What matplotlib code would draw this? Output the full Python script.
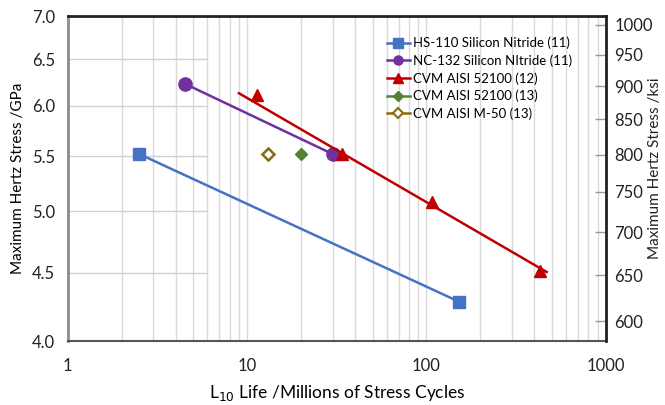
import numpy as np
import matplotlib.pyplot as plt
from matplotlib.ticker import FixedLocator, NullLocator, NullFormatter

plt.rcParams['font.family'] = ['Lato', 'DejaVu Sans']

# ****** Data ****** #
hs110_life = [2.5, 152]
hs110_stress = [5.52, 4.28]

nc132_life = [4.5, 30]
nc132_stress = [6.23, 5.52]

cvm12_life = [11.4, 33.8, 108, 428]
cvm12_stress = [6.11, 5.52, 5.08, 4.51]
cvm12_fit_life = [9.0, 468]
cvm12_fit_stress = [6.13, 4.505]

cvm13_life = [20]
cvm13_stress = [5.52]

m50_life = [13]
m50_stress = [5.52]

gpa_ticks = [4.0, 4.5, 5.0, 5.5, 6.0, 6.5, 7.0]
ksi_ticks = [600, 650, 700, 750, 800, 850, 900, 950, 1000]
GPA_TO_KSI = 145.038

fig = plt.figure(figsize=(6.65, 4.05), dpi=100)
ax = fig.add_axes([0.102, 0.158, 0.809, 0.802])

ax.set_xscale('log')
ax.set_yscale('log')
ax.set_xlim(1, 1000)
ax.set_ylim(4.0, 7.0)

# grid: vertical lines everywhere, horizontal lines only on the left part
minor_x = [m * 10 ** d for d in range(3) for m in range(2, 10)] + [10, 100]
for xv in minor_x:
    ax.axvline(xv, color='#d9d9d9', lw=1.0, zorder=0)
for yv in gpa_ticks[1:-1]:
    ax.plot([1, 6], [yv, yv], color='#d0d0d0', lw=1.0, zorder=0)

blue = '#4472C4'
purple = '#7030A0'
red = '#C00000'
green = '#548235'
gold = '#8C6A0A'

ax.plot(hs110_life, hs110_stress, color=blue, lw=1.8, marker='s', ms=9)
ax.plot(nc132_life, nc132_stress, color=purple, lw=1.8, marker='o', ms=9.5)
ax.plot(cvm12_fit_life, cvm12_fit_stress, color=red, lw=1.8)
ax.plot(cvm12_life, cvm12_stress, ls='none', color=red, marker='^', ms=9)
ax.plot(cvm13_life, cvm13_stress, ls='none', color=green, marker='D', ms=6.5)
ax.plot(m50_life, m50_stress, ls='none', color=gold, marker='D', ms=6.5,
        mfc='white', mew=1.8)

# legend handles (smaller markers, as in the original)
ax.plot([], [], color=blue, lw=1.8, marker='s', ms=6.5, label='HS-110 Silicon Nitride (11)')
ax.plot([], [], color=purple, lw=1.8, marker='o', ms=6.5, label='NC-132 Silicon NItride (11)')
ax.plot([], [], color=red, lw=1.8, marker='^', ms=6.5, label='CVM AISI 52100 (12)')
ax.plot([], [], color=green, lw=1.8, marker='D', ms=5, label='CVM AISI 52100 (13)')
ax.plot([], [], color=gold, lw=1.8, marker='D', ms=5, mfc='white', mew=1.5,
        label='CVM AISI M-50 (13)')

ax.set_xticks([1, 10, 100, 1000])
ax.set_xticklabels(['1', '10', '100', '1000'])
ax.xaxis.set_minor_locator(NullLocator())
ax.yaxis.set_major_locator(FixedLocator(gpa_ticks))
ax.yaxis.set_minor_locator(NullLocator())
ax.yaxis.set_minor_formatter(NullFormatter())
ax.set_yticklabels([f'{v:.1f}' for v in gpa_ticks])
ax.tick_params(axis='both', length=0, labelsize=12, colors='#222222')
ax.tick_params(axis='x', pad=12)
ax.tick_params(axis='y', pad=9)

ax.spines['left'].set_color('#8c8c8c')
ax.spines['left'].set_linewidth(2)
ax.spines['bottom'].set_color('#555555')
ax.spines['bottom'].set_linewidth(1.5)
ax.spines['top'].set_color('#222222')
ax.spines['top'].set_linewidth(2)

ax.set_xlabel('L$_{10}$ Life /Millions of Stress Cycles', fontsize=12.5, labelpad=7)
ax.set_ylabel('Maximum Hertz Stress /GPa', fontsize=11, labelpad=5)

# right-hand axis in ksi
ax2 = ax.twinx()
ax2.set_yscale('log')
ax2.set_ylim(4.0 * GPA_TO_KSI, 7.0 * GPA_TO_KSI)
ax2.yaxis.set_major_locator(FixedLocator(ksi_ticks))
ax2.yaxis.set_minor_locator(NullLocator())
ax2.yaxis.set_minor_formatter(NullFormatter())
ax2.set_yticklabels([str(v) for v in ksi_ticks])
ax2.tick_params(axis='y', direction='in', length=8, width=1, colors='#999999',
                labelcolor='#222222', labelsize=12, pad=6)
ax2.spines['right'].set_color('#222222')
ax2.spines['right'].set_linewidth(2)
for s in ['left', 'top', 'bottom']:
    ax2.spines[s].set_visible(False)
fig.text(655 / 665, 1 - 168 / 405, 'Maximum Hertz Stress /ksi', rotation=90,
         ha='center', va='center', fontsize=11, color='#222222')

ax.legend(loc='upper left', bbox_to_anchor=(0.593, 0.937), frameon=False,
          fontsize=9.5, handlelength=1.75, handletextpad=0.23, labelspacing=0.39,
          borderpad=0, borderaxespad=0)

plt.savefig('out.png', dpi=100)
